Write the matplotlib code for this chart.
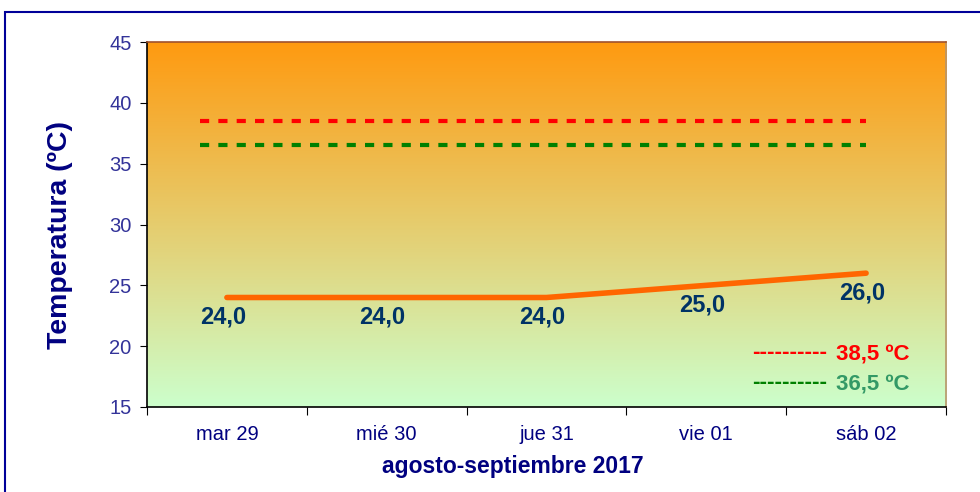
import numpy as np
import matplotlib.pyplot as plt
from matplotlib.colors import LinearSegmentedColormap
from matplotlib.patches import Rectangle

days = ['mar 29', 'mié 30', 'jue 31', 'vie 01', 'sáb 02']
temps = [24.0, 24.0, 24.0, 25.0, 26.0]
limit_red = 38.5
limit_green = 36.5

plt.rcParams['font.family'] = ['Liberation Sans', 'DejaVu Sans']

fig = plt.figure(figsize=(9.8, 4.92), dpi=100)
ax = fig.add_axes([147 / 980, 1 - 407 / 492, 799 / 980, 365 / 492])

# outer chart border
fig.patches.append(Rectangle((5 / 980, -0.1), 1.1, 1 - 12 / 492 + 0.1,
                             transform=fig.transFigure, fill=False,
                             edgecolor='#000099', linewidth=1.5))

x = np.arange(len(days))
ax.set_xlim(-0.5, len(days) - 0.5)
ax.set_ylim(15, 45)

# background gradient orange -> light green
cmap = LinearSegmentedColormap.from_list('bg', ['#CCFFCC', '#FF9A10'])
grad = np.linspace(0, 1, 256).reshape(-1, 1)
ax.imshow(grad, cmap=cmap, aspect='auto', origin='lower',
          extent=[-0.5, len(days) - 0.5, 15, 45], zorder=0)

xs = [-0.17, len(days) - 1]
ax.plot(xs, [limit_red] * 2, color='#FF0000', linestyle=(0, (2.2, 2.2)), linewidth=3, zorder=2)
ax.plot(xs, [limit_green] * 2, color='#008000', linestyle=(0, (2.2, 2.2)), linewidth=3, zorder=2)

ax.plot(x, temps, color='#FF6600', linewidth=4, solid_capstyle='round', zorder=3)
for xi, t in zip(x, temps):
    ax.annotate(f'{t:.1f}'.replace('.', ','), (xi, t), xytext=(-3, -14),
                textcoords='offset points', ha='center', va='center',
                fontsize=17, fontweight='bold', color='#003366', zorder=4)

ax.text(0.757, 0.150, '----------', transform=ax.transAxes, color='#FF0000',
        fontsize=16.5, fontweight='bold', ha='left', va='center')
ax.text(0.862, 0.143, '38,5 ºC', transform=ax.transAxes, color='#FF0000',
        fontsize=16, fontweight='bold', ha='left', va='center')
ax.text(0.757, 0.067, '----------', transform=ax.transAxes, color='#008000',
        fontsize=16.5, fontweight='bold', ha='left', va='center')
ax.text(0.862, 0.060, '36,5 ºC', transform=ax.transAxes, color='#339966',
        fontsize=16, fontweight='bold', ha='left', va='center')

ax.set_yticks(range(15, 46, 5))
ax.tick_params(axis='y', labelsize=14.5, labelcolor='#333399', length=5, color='black', pad=6)
ax.set_xticks(np.arange(-0.5, len(days), 1))
ax.set_xticklabels([])
ax.set_xticks(x, minor=True)
ax.set_xticklabels(days, minor=True)
ax.tick_params(axis='x', which='major', length=6, color='black')
ax.tick_params(axis='x', which='minor', length=0, labelsize=14.5,
               labelcolor='#000080', pad=13)

for side in ['left', 'bottom']:
    ax.spines[side].set_color('black')
ax.spines['top'].set_color('#A0522D')
ax.spines['right'].set_color('#B8956A')
for s in ax.spines.values():
    s.set_linewidth(1.2)

fig.text(60 / 980, 1 - 235 / 492, 'Temperatura (ºC)', rotation=90, fontsize=20.5,
         fontweight='bold', color='#000080', ha='center', va='center')
fig.text(513 / 980, 1 - 467 / 492, 'agosto-septiembre 2017', fontsize=16.5,
         fontweight='bold', color='#000080', ha='center', va='center')

fig.savefig('out.png', dpi=100)
